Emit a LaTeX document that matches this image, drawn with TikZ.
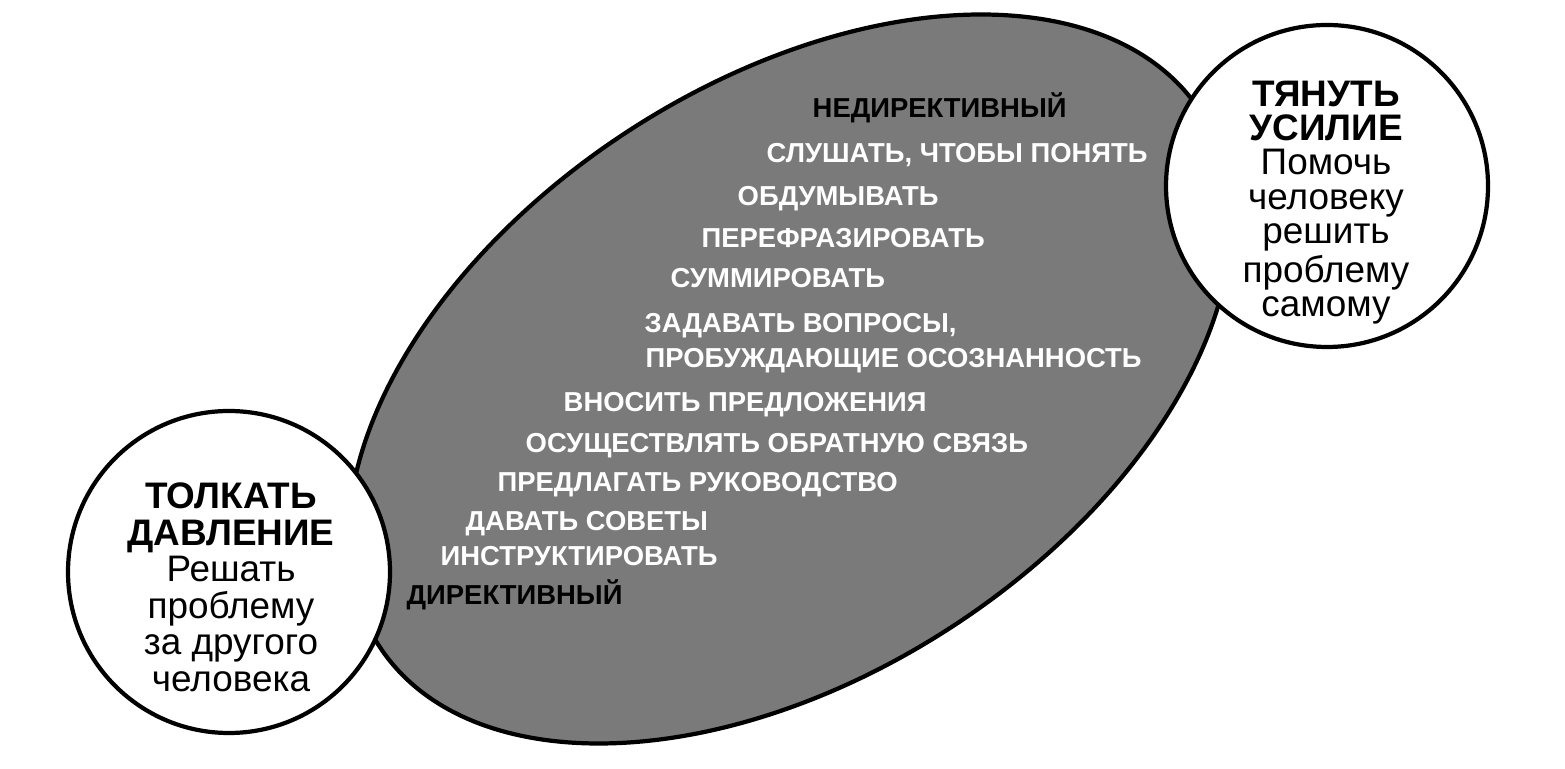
\documentclass[tikz,border=0pt]{standalone}
\usepackage{fontspec}
\setmainfont{Liberation Sans}
\usetikzlibrary{shapes.geometric}

\begin{document}
\begin{tikzpicture}[
	item/.style={anchor=base west, inner sep=0pt, text=white, font=\fontsize{7.8}{9}\selectfont\bfseries},
	pole/.style={anchor=base west, inner sep=0pt, text=black, font=\fontsize{7.8}{9}\selectfont\bfseries},
	badge/.style={circle, draw, line width=1.2pt, fill=white, minimum size=3.22cm, inner sep=0pt},
	badgetext/.style={anchor=north, align=center, inner sep=0pt}
]
	\useasboundingbox (0, 0) rectangle (15.65, 7.68);
	% The grey field first, so that the two circles cover its ends.
	\node(field) [ellipse, draw, line width=1.2pt, fill=black!52, minimum width=9.8cm, minimum height=5.92cm, inner sep=0pt, rotate=33] at (7.90, 3.89) {};
	\node(nondirective) [pole] at (8.12, 6.50) {НЕДИРЕКТИВНЫЙ};
	\node(listen) [item] at (7.66, 6.05) {СЛУШАТЬ, ЧТОБЫ ПОНЯТЬ};
	\node(reflect) [item] at (7.37, 5.62) {ОБДУМЫВАТЬ};
	\node(paraphrase) [item] at (7.01, 5.20) {ПЕРЕФРАЗИРОВАТЬ};
	\node(summarise) [item] at (6.70, 4.80) {СУММИРОВАТЬ};
	\node(ask) [item] at (6.44, 4.35) {ЗАДАВАТЬ ВОПРОСЫ,};
	\node(awareness) [item] at (6.45, 4.00) {ПРОБУЖДАЮЩИЕ ОСОЗНАННОСТЬ};
	\node(suggest) [item] at (5.63, 3.56) {ВНОСИТЬ ПРЕДЛОЖЕНИЯ};
	\node(feedback) [item] at (5.25, 3.15) {ОСУЩЕСТВЛЯТЬ ОБРАТНУЮ СВЯЗЬ};
	\node(guide) [item] at (4.97, 2.76) {ПРЕДЛАГАТЬ РУКОВОДСТВО};
	\node(advise) [item] at (4.65, 2.37) {ДАВАТЬ СОВЕТЫ};
	\node(instruct) [item] at (4.40, 2.02) {ИНСТРУКТИРОВАТЬ};
	\node(directive) [pole] at (4.06, 1.63) {ДИРЕКТИВНЫЙ};
	% The two ends of the scale.
	\node(push) [badge] at (2.29, 1.96) {};
	\node(pull) [badge] at (13.27, 5.82) {};
	\node(pushtext) [badgetext, font=\fontsize{10.5}{10.4}\selectfont] at (2.31, 2.86)
		{\textbf{ТОЛКАТЬ}\\\textbf{ДАВЛЕНИЕ}\\Решать\\проблему\\за другого\\человека};
	\node(pulltext) [badgetext, font=\fontsize{10.5}{9.8}\selectfont] at (13.26, 6.88)
		{\textbf{ТЯНУТЬ}\\\textbf{УСИЛИЕ}\\Помочь\\человеку\\решить\\проблему\\самому};
\end{tikzpicture}
\end{document}
